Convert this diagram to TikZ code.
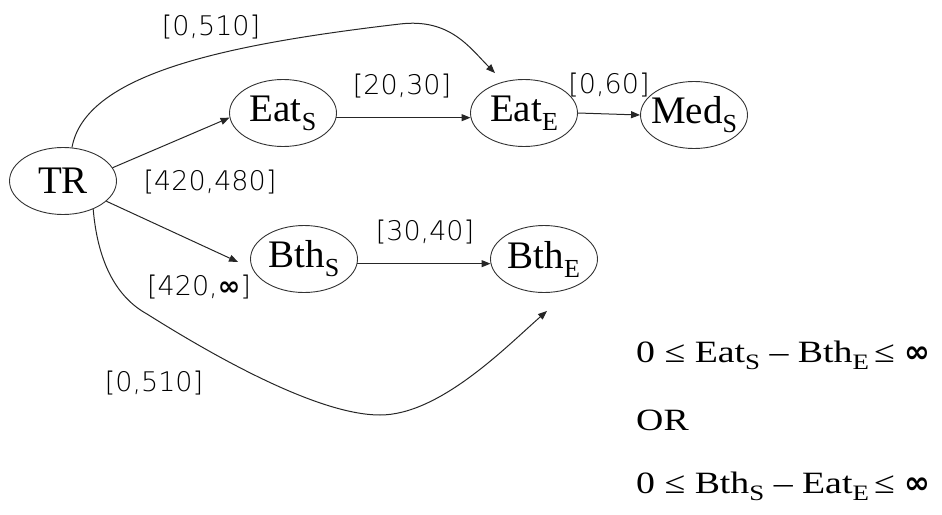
\documentclass[tikz,border=0pt]{standalone}
\usepackage{fontspec}
\setmainfont{Liberation Serif}
\newfontfamily\wideserif[FakeStretch=1.22]{Liberation Serif}
\newfontfamily\lblfont{DejaVu Sans ExtraLight}
\newfontfamily\symfont{DejaVu Sans}
\usetikzlibrary{arrows.meta,shapes.geometric}
\newcommand\nsub[1]{\raisebox{-9pt}{\fontsize{26}{26}\selectfont #1}}
\newcommand\tsub[1]{\raisebox{-7pt}{\fontsize{22}{22}\selectfont #1}}
\newcommand\infsym{{\symfont\bfseries ∞}}
\begin{document}
\begin{tikzpicture}[x=1pt,y=-1pt,
  ev/.style={draw=black!80, line width=0.9pt, ellipse, minimum width=107pt, minimum height=67pt, inner sep=0pt, font=\fontsize{39}{42}\selectfont},
  arr/.style={draw=black!85, line width=1pt, -{Triangle[length=9pt,width=7pt]}},
  lbl/.style={font=\lblfont\fontsize{27}{29}\selectfont, inner sep=0pt},
  cons/.style={font=\wideserif\fontsize{31}{33}\selectfont, anchor=base west, inner sep=0pt}]
\useasboundingbox (0,0) rectangle (942,514);
% nodes
\node[ev] (TR)   at (63,181)  {\makebox[0pt]{TR}};
\node[ev] (EatS) at (283,113) {\makebox[0pt]{Eat\nsub{S}}};
\node[ev] (EatE) at (524,113) {\makebox[0pt]{Eat\nsub{E}}};
\node[ev] (MedS) at (694,115) {\makebox[0pt]{Med\nsub{S}}};
\node[ev] (BthS) at (304,259) {\makebox[0pt]{Bth\nsub{S}}};
\node[ev] (BthE) at (544,259) {\makebox[0pt]{Bth\nsub{E}}};
% arrow end points
\coordinate (ein)  at ([shift={(-29,-6)}]EatE.north);
\coordinate (bsin) at ([shift={(-12,3)}]BthS.west);
\coordinate (bin)  at ([shift={(3,18)}]BthE.south);
% connectors
\draw[arr] (TR.15) -- (EatS.185);
\draw[arr] (EatS.-5) -- (EatE.185);
\draw[arr] (EatE.east) -- (MedS.west);
\draw[arr] (TR.-25) -- (bsin);
\draw[arr] (BthS.-5) -- (BthE.185);
\draw[arr] (TR.75) .. controls (85,75) and (220,45) .. (400,24)
                   .. controls (450,18) and (470,48) .. (ein);
\draw[arr] (TR.-43) .. controls (98,265) and (118,298) .. (147,314)
                    .. controls (220,360) and (320,415) .. (380,415)
                    .. controls (440,415) and (507,346) .. (bin);
% labels
\node[lbl] (l1) at (211,27)  {[0,510]};
\node[lbl] (l2) at (402,86)  {[20,30]};
\node[lbl] (l3) at (609,85)  {[0,60]};
\node[lbl] (l4) at (210,182) {[420,480]};
\node[lbl] (l5) at (425,232) {[30,40]};
\node[lbl] (l6) at (199,287) {[420,\infsym]};
\node[lbl] (l7) at (154,383) {[0,510]};
% constraints
\node[cons] (c1) at (636,362) {0 ≤ Eat\tsub{S} – Bth\tsub{E}\,≤ \infsym};
\node[cons] (c2) at (636,430) {OR};
\node[cons] (c3) at (636,493) {0 ≤ Bth\tsub{S} – Eat\tsub{E}\,≤ \infsym};
\end{tikzpicture}
\end{document}
